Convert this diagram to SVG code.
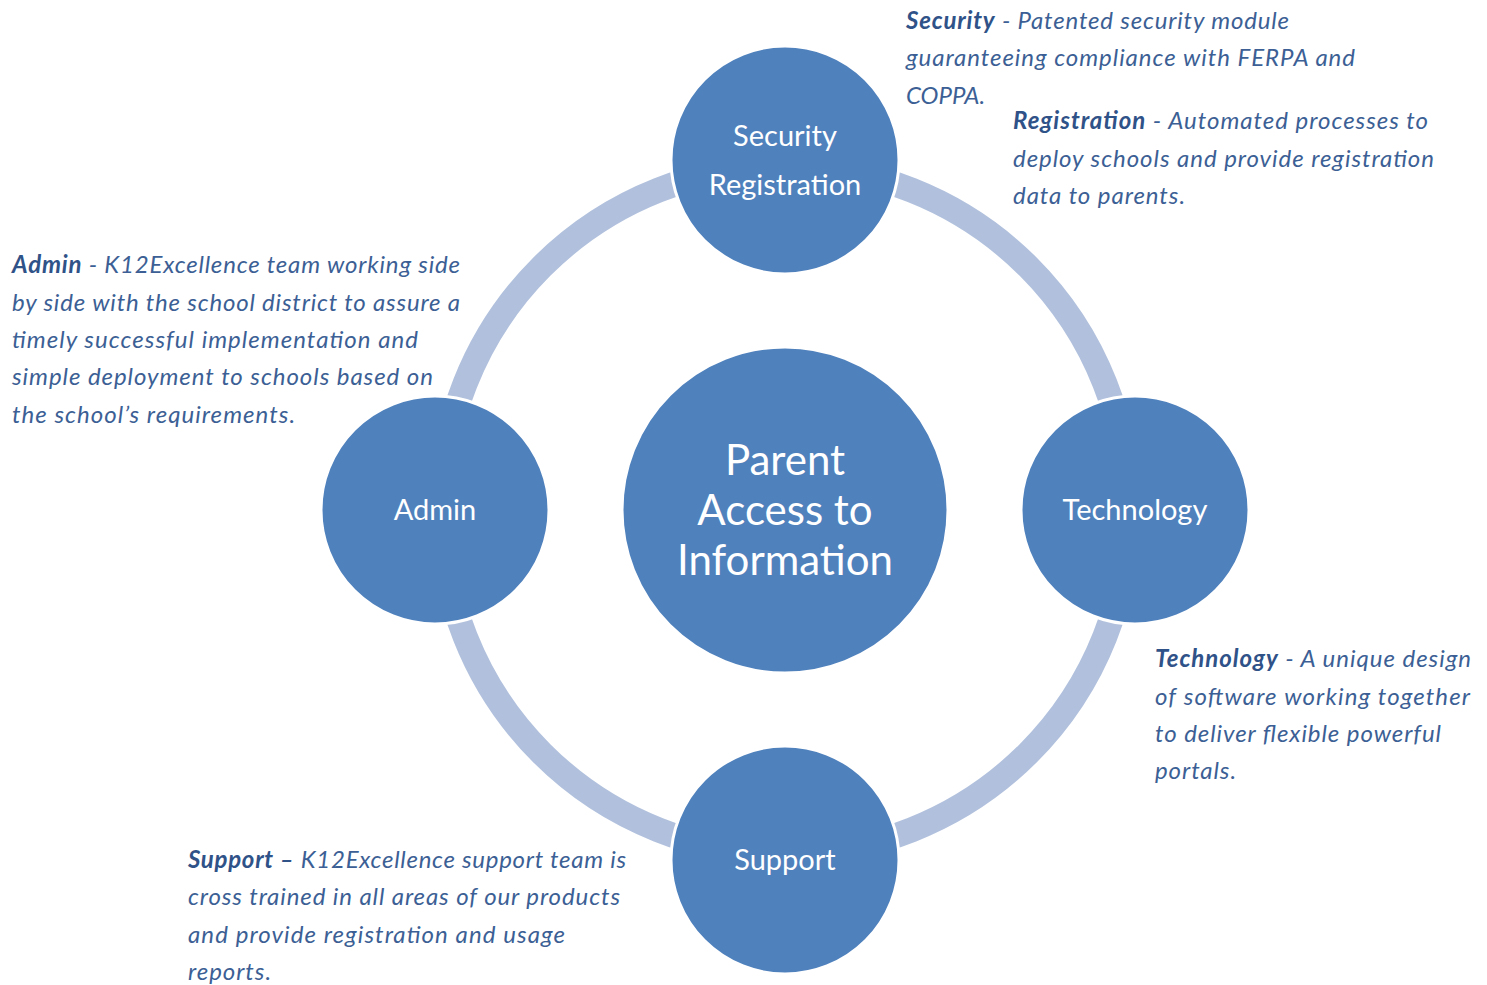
<svg xmlns="http://www.w3.org/2000/svg" width="1487" height="985" viewBox="0 0 1487 985">
<style>
.node{fill:#4f81bd;stroke:#ffffff;stroke-width:3}
.lbl{fill:#ffffff;font-family:Lato,"Open Sans",sans-serif;text-anchor:middle}
.desc{fill:#3c5f95;font-family:Lato,"Open Sans",sans-serif;font-style:italic;font-size:24px}
.b{font-weight:bold;fill:#2f5288}
.ring{fill:none;stroke:#b1c1dd;stroke-width:25}
</style>
<rect width="1487" height="985" fill="#ffffff"/>
<g id="connectors">
<circle class="ring" cx="785" cy="510" r="344"/>
</g>
<g id="center">
<circle class="node" cx="785" cy="510" r="163"/>
<text class="lbl" font-size="42"><tspan x="785" y="475">Parent</tspan><tspan x="785" y="525">Access to</tspan><tspan x="785" y="575">Information</tspan></text>
</g>
<g id="security-registration">
<circle class="node" cx="785" cy="160" r="114"/>
<text class="lbl" font-size="29"><tspan x="785" y="146">Security</tspan><tspan x="785" y="195">Registration</tspan></text>
</g>
<g id="admin">
<circle class="node" cx="435" cy="510" r="114"/>
<text class="lbl" font-size="29" x="435" y="520">Admin</text>
</g>
<g id="technology">
<circle class="node" cx="1135" cy="510" r="114"/>
<text class="lbl" font-size="29" x="1135" y="520">Technology</text>
</g>
<g id="support">
<circle class="node" cx="785" cy="860" r="114"/>
<text class="lbl" font-size="29" x="785" y="870">Support</text>
</g>
<g id="desc-security">
<text class="desc" x="906" y="29" textLength="383" lengthAdjust="spacing"><tspan class="b">Security</tspan> - Patented security module</text>
<text class="desc" x="906" y="66" textLength="449" lengthAdjust="spacing">guaranteeing compliance with FERPA and</text>
<text class="desc" x="906" y="104" textLength="79" lengthAdjust="spacing">COPPA.</text>
</g>
<g id="desc-registration">
<text class="desc" x="1013" y="129" textLength="415" lengthAdjust="spacing"><tspan class="b">Registration</tspan> - Automated processes to</text>
<text class="desc" x="1013" y="167" textLength="421" lengthAdjust="spacing">deploy schools and provide registration</text>
<text class="desc" x="1013" y="204" textLength="172" lengthAdjust="spacing">data to parents.</text>
</g>
<g id="desc-admin">
<text class="desc" x="12" y="273" textLength="448" lengthAdjust="spacing"><tspan class="b">Admin</tspan> - K12Excellence team working side</text>
<text class="desc" x="12" y="311" textLength="448" lengthAdjust="spacing">by side with the school district to assure a</text>
<text class="desc" x="12" y="348" textLength="406" lengthAdjust="spacing">timely successful implementation and</text>
<text class="desc" x="12" y="385" textLength="421" lengthAdjust="spacing">simple deployment to schools based on</text>
<text class="desc" x="12" y="423" textLength="283" lengthAdjust="spacing">the school’s requirements.</text>
</g>
<g id="desc-technology">
<text class="desc" x="1155" y="667" textLength="316" lengthAdjust="spacing"><tspan class="b">Technology</tspan> - A unique design</text>
<text class="desc" x="1155" y="705" textLength="315" lengthAdjust="spacing">of software working together</text>
<text class="desc" x="1155" y="742" textLength="286" lengthAdjust="spacing">to deliver flexible powerful</text>
<text class="desc" x="1155" y="779" textLength="81" lengthAdjust="spacing">portals.</text>
</g>
<g id="desc-support">
<text class="desc" x="188" y="868" textLength="438" lengthAdjust="spacing"><tspan class="b">Support –</tspan> K12Excellence support team is</text>
<text class="desc" x="188" y="905" textLength="432" lengthAdjust="spacing">cross trained in all areas of our products</text>
<text class="desc" x="188" y="943" textLength="377" lengthAdjust="spacing">and provide registration and usage</text>
<text class="desc" x="188" y="980" textLength="83" lengthAdjust="spacing">reports.</text>
</g>
</svg>
